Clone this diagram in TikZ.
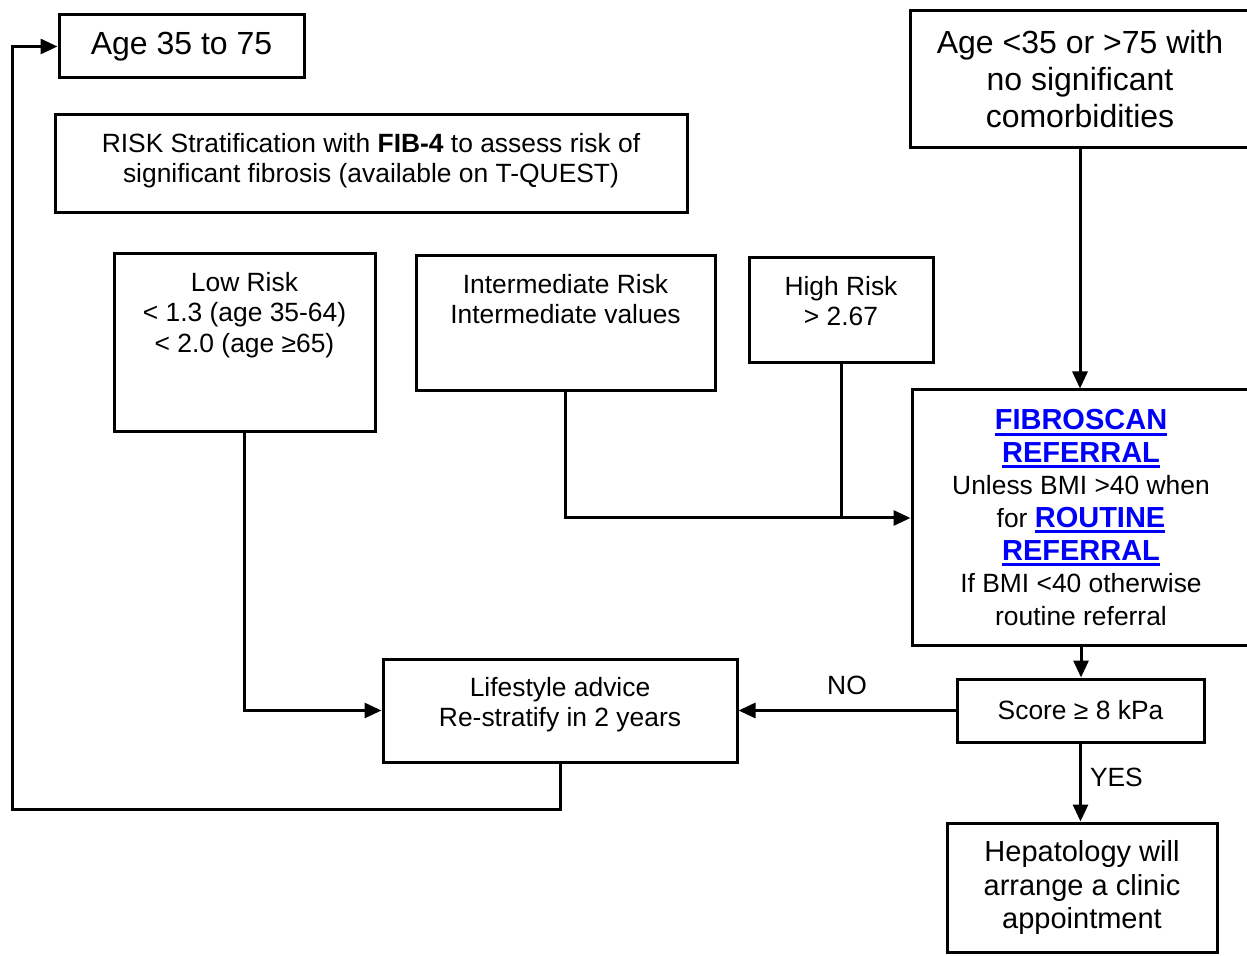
\documentclass[tikz,border=0pt]{standalone}
\usepackage{fontspec}
\setmainfont{Liberation Sans}
\usepackage{xcolor}
\usepackage{tikz}
\usetikzlibrary{positioning,arrows.meta}

\definecolor{linkblue}{RGB}{0,0,250}
\newcommand{\fiblink}[1]{{\fontsize{14.5}{16.3}\selectfont\bfseries\color{linkblue}%
  \setbox0\hbox{#1}\rlap{\rule[-3pt]{\wd0}{1.5pt}}\box0}}

\begin{document}
\begin{tikzpicture}[x=0.5pt, y=-0.5pt, >={Triangle[length=8.5pt,width=7.5pt]},
    box/.style={draw, line width=1.5pt, rectangle, inner sep=0pt, align=center,
      font=\fontsize{13.2}{15.3}\selectfont},
    big/.style={font=\fontsize{16}{18.5}\selectfont},
    txt/.style={inner sep=0pt, align=center, font=\fontsize{13.2}{15.3}\selectfont},
    wire/.style={line width=1.5pt},
    arr/.style={->, line width=1.5pt}]
		\useasboundingbox (0,0) rectangle (1247,956);

		\node[box, big, minimum width=122.5pt, minimum height=31.5pt] (age) at (181.5,46.5) {Age 35 to 75};
		\node[box, big, minimum width=170pt, minimum height=68.5pt] (ageout) at (1080,79.5) {Age <35 or >75 with\\no significant\\comorbidities};
		\node[box, minimum width=316pt, minimum height=49pt] (risk) at (371,164) {};
		\node[txt, below=9.5pt of risk.north] (risktxt) {RISK Stratification with \textbf{FIB-4} to assess risk of\\significant fibrosis (available on T-QUEST)};

		\node[box, minimum width=130.5pt, minimum height=89pt] (low) at (244.5,343) {};
		\node[txt, below=9.5pt of low.north] (lowtxt) {Low Risk\\< 1.3 (age 35-64)\\< 2.0 (age ≥65)};
		\node[box, minimum width=149.5pt, minimum height=67.5pt] (inter) at (565.5,323.5) {};
		\node[txt, below=9.5pt of inter.north] (intertxt) {Intermediate Risk\\Intermediate values};
		\node[box, minimum width=92pt, minimum height=52.5pt] (high) at (841,310.5) {};
		\node[txt, below=9.5pt of high.north] (hightxt) {High Risk\\> 2.67};

		\node[box, minimum width=169pt, minimum height=127.5pt, font=\fontsize{13.2}{16.3}\selectfont] (fibro) at (1081,517.5)
			{\fiblink{FIBROSCAN}\\\fiblink{REFERRAL}\\Unless BMI >40 when\\for \fiblink{ROUTINE}\\\fiblink{REFERRAL}\\If BMI <40 otherwise\\routine referral};
		\node[box, minimum width=123.5pt, minimum height=31.5pt] (score) at (1080.5,710.5) {Score ≥ 8 kPa};
		\node[box, minimum width=135pt, minimum height=64.5pt, font=\fontsize{14.5}{16.8}\selectfont] (hep) at (1082,887.5) {Hepatology will\\arrange a clinic\\appointment};
		\node[box, minimum width=177pt, minimum height=51.5pt] (life) at (560,710.5) {};
		\node[txt, below=9.5pt of life.north] (lifetxt) {Lifestyle advice\\Re-stratify in 2 years};

		\coordinate (join) at (841,518);
		\coordinate (back) at (12,809);

		\draw[arr] (ageout.south) -- (ageout.south |- fibro.north);
		\draw[wire] (high.south) -- (join);
		\draw[arr] (inter.south) |- (join) -- (fibro.west |- join);
		\draw[arr] (low.south) |- (life.west);
		\draw[arr] (fibro.south) -- (fibro.south |- score.north);
		\draw[arr] (score.west) -- node[txt, above=7pt] (no) {NO} (life.east);
		\draw[arr] (score.south) -- node[txt, right=4pt, pos=0.43] (yes) {YES} (score.south |- hep.north);
		\draw[arr] (life.south) |- (back) |- (age.west);
	\end{tikzpicture}
\end{document}
